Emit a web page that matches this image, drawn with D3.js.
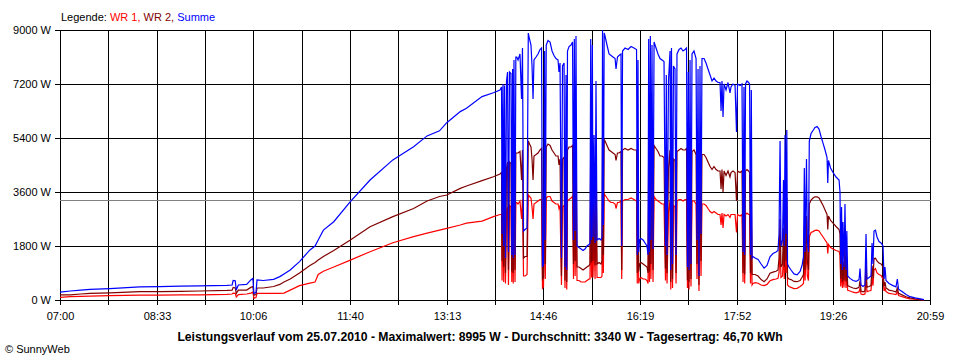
<!DOCTYPE html>
<html><head><meta charset="utf-8">
<script src="https://cdn.jsdelivr.net/npm/d3@7/dist/d3.min.js"></script>
<style>
body{margin:0;background:#fff;}
svg text{font-family:"Liberation Sans",Arial,sans-serif;}
</style></head><body>
<svg id="c" width="960" height="360"></svg>
<script>
// minutes after 07:00
const minutesAfter7 = [
0,10,20,29,48,77,96,116,135,161,166,167,169,170,172,180,184,186,187,189,190,196,206,212,216,222,231,241,246,249,254,264,280,299,321,341,354,366,373,386,392,407,418,424.3,
425.8,426.3,427.2,427.9,428.7,429.6,430.6,431.6,432.5,433.5,434.9,435.7,436.5,437.1,437.8,438.8,439.6,440.5,441.7,443.6,445.1,446.0,447.0,448.5,450.4,451.6,452.8,454.2,455.2,456.2,457.1,459.1,461.0,462.9,464.4,465.3,466.3,467.3,468.0,468.9,470.6,472.6,474.5,476.4,478.3,480.3,481.2,482.2,483.6,484.6,486.1,487.0,488.0,488.7,489.4,490.9,492.8,494.3,495.2,496.0,496.8,497.6,498.6,500.5,502.5,504.4,506.3,508.2,510.2,511.1,511.8,512.6,513.4,514.0,515.0,516.0,516.9,517.9,519.8,521.7,522.7,523.2,524.0,524.8,525.6,527.5,529.5,531.4,533.3,535.3,536.2,537.6,539.1,541.0,541.7,542.5,544.9,547.8,550.7,553.5,556.0,556.7,557.4,558.1,558.9,560.3,562.3,564.2,566.1,567.1,567.7,568.5,569.3,569.9,570.9,571.9,572.9,574.8,576.7,578.6,580.6,582.5,583.9,584.7,585.4,586.8,588.3,589.0,589.7,590.7,591.6,593.1,594.1,595.0,597.0,598.9,600.8,602.8,604.2,605.1,605.9,606.6,607.6,608.5,609.5,611.4,613.4,614.3,615.3,616.2,617.2,618.2,619.1,621.1,623.0,624.9,626.9,628.8,630.7,632.7,634.6,636.5,637.5,638.4,639.4,640.4,642.3,644.2,646.1,647.1,649.0,651.0,652.4,653.4,655.8,657.7,658.7,659.6,660.3,661.1,662.5,664.0,665.0,665.9,666.7,667.4,668.3,
670.3,673.2,676.1,679.0,681.8,684.7,687.6,690.5,692.4,693.4,694.4,695.3,696.8,697.7,698.5,699.2,700.1,700.9,701.6,703.0,705.0,707.8,710.8,713.7,715.6,717.0,717.8,718.5,719.9,720.7,721.8,722.6,724.3,726.2,728.1,730.1,732.0,733.9,735.9,737.8,739.7,740.4,741.1,743.1,745.5,748.4,751.3,752.2,752.9,753.7,754.5,755.1,756.1,757.0,758.0,758.8,759.6,761.9,764.8,767.7,770.6,771.5,772.5,774.4,776.3,777.3,778.2,780.2,782.1,783.1,784.0,785.0,786.4,787.9,789.8,791.8,793.7,794.7,795.6,796.6,799.5,803.3,806.2,807.5,808.7,812.0,815.9,819.7,824.6,829.4,833.2
];
// WR 1 (W)
const wr1 = [
90,110,120,130,145,160,165,170,170,190,200,230,220,100,180,200,230,260,60,80,220,220,220,220,230,330,480,560,600,850,960,1100,1330,1610,1910,2110,2230,2330,2390,2500,2560,2630,2780,2850,
2850,650,2900,600,2950,550,3000,3100,500,3150,3100,600,3100,550,3200,600,3250,3250,3200,3300,2700,3350,800,800,850,3500,3450,3400,3100,2700,3200,3250,3300,3350,3350,400,450,3300,700,3400,3450,3450,3300,3250,3200,3200,3050,3150,500,3100,3150,400,3000,350,3300,3350,3400,3450,700,3450,800,3500,650,650,600,600,600,650,700,700,3450,750,3400,750,2200,700,2900,750,750,750,800,3600,900,3550,3500,3400,3300,3250,3250,3200,3050,3250,3250,3300,700,3300,3350,3350,3400,3350,3300,550,3200,550,700,750,700,700,650,550,3450,600,3500,700,3400,600,3450,3350,3300,3250,3200,3200,650,3000,550,2950,3300,350,3350,400,3150,3100,550,3300,3350,3350,3300,3350,3350,400,3050,350,3200,450,3300,3300,3200,700,3100,300,3100,800,3200,3200,3150,3050,2950,2900,2950,2900,2850,2850,2500,2900,2400,2850,2800,2850,2750,2850,2850,2850,2250,2850,2800,2850,600,2800,550,2850,2900,2850,2850,550,2750,500,550,
580,560,500,480,520,640,680,700,720,900,1700,750,800,1600,700,2200,900,2270,500,450,420,380,390,450,500,550,1700,650,1800,800,650,2100,2250,2280,2320,2330,2300,2200,2100,2000,1900,1550,1850,1750,1700,1650,1620,1500,450,1100,400,900,420,1300,400,900,320,300,260,240,270,400,200,180,200,800,280,300,320,750,480,1000,1050,900,850,820,700,300,400,280,220,200,180,280,150,110,70,40,25,15,5
];
// WR 2 (W)
const wr2 = [
170,170,200,220,240,280,280,290,300,320,330,420,400,220,330,330,420,450,160,180,400,400,450,520,600,700,900,1150,1250,1330,1450,1650,2000,2440,2780,3050,3300,3450,3500,3720,3800,3980,4110,4200,
4250,1300,4400,1100,4500,900,4400,4600,1000,4600,4550,950,4700,900,4800,1000,4900,4900,4900,4950,4000,5000,1400,1450,1450,5300,5200,5100,4700,4000,4800,4850,4900,5000,5050,700,750,5000,1200,5100,5200,5150,5000,4900,4800,4800,4500,4700,800,4700,4750,650,4500,600,5000,5100,5100,5150,1200,5200,1300,5300,1100,1100,1050,1000,1050,1100,1150,1200,5200,1250,5100,1300,3300,1150,4400,1200,1250,1200,1300,5400,1500,5350,5300,5150,5000,4950,4900,4850,4650,4900,4900,4950,1000,5000,5050,5000,5050,5000,5000,900,4800,950,1200,1250,1200,1150,1100,900,5200,950,5300,1200,5100,1000,5150,5050,4950,4800,4800,4750,1050,4500,900,4400,5000,600,5000,700,4700,4650,900,4950,5000,5050,5000,5000,5050,650,4600,600,4800,700,4950,5000,4850,1200,4600,500,4700,1300,4850,4850,4750,4600,4450,4350,4450,4350,4300,4300,3700,4350,3600,4300,4150,4300,4100,4250,4300,4250,3300,4300,4250,4300,900,4250,850,4300,4350,4300,4250,900,4100,850,850,
850,800,680,610,700,890,930,960,1000,1400,2700,1100,1200,2400,1100,3300,1300,3400,750,700,680,620,610,650,760,850,2500,1000,2800,1300,1000,3200,3330,3400,3440,3440,3400,3280,3150,3000,2850,2350,2800,2650,2560,2450,2350,2200,700,1700,600,1300,650,1900,620,1400,480,440,400,380,420,650,300,270,300,1400,430,450,480,1150,720,1380,1390,1300,1230,1200,1100,450,600,400,330,300,270,400,220,170,110,70,40,25,5
];
// Summe (W)
const summe = [
260,300,330,355,380,440,445,465,470,490,500,650,640,330,500,520,670,720,220,250,670,650,690,780,870,1000,1280,1670,1800,2000,2330,2610,3280,4000,4670,5110,5470,5640,5910,6280,6390,6780,6910,7000,
7100,2200,7200,1800,7150,1400,7300,7600,1600,7600,7550,1500,7700,1400,8000,1500,8100,8100,8000,8200,6700,8400,2300,2350,2400,8900,8700,8500,7800,6700,8000,8100,8200,8350,8400,1100,1200,8300,2000,8500,8650,8600,8300,8150,8050,8000,7600,7900,1400,7800,7900,1100,7500,1000,8300,8450,8500,8600,2000,8700,2300,8800,1800,1750,1700,1650,1700,1800,1850,1900,8700,2000,8500,2100,5500,1900,7300,2000,2050,2000,2100,9000,2500,8900,8800,8500,8200,8150,8100,8050,7700,8100,8150,8200,1800,8300,8400,8350,8450,8400,8350,1500,8000,1600,2000,2050,2000,1900,1800,1500,8700,1600,8800,2000,8500,1700,8600,8400,8200,8050,8000,7950,1800,7500,1500,7300,8300,1000,8400,1200,7800,7700,1500,8200,8350,8400,8300,8350,8400,1100,7600,1000,8000,1200,8200,8300,8050,2000,7700,800,7800,2200,8050,8050,7900,7700,7500,7300,7400,7300,7250,7250,6300,7300,6100,7200,7000,7250,6900,7100,7200,7150,5600,7200,7150,7200,1600,7100,1500,7200,7300,7250,7200,1500,7000,1400,1450,
1400,1350,1200,1060,1150,1440,1550,1600,1650,2200,5300,1800,2000,4000,1800,5500,2200,5670,1200,1100,1000,870,840,950,1150,1450,4400,1600,4700,2000,1600,5300,5550,5650,5750,5780,5700,5450,5220,5000,4750,3900,4650,4400,4250,4100,4000,3600,1200,3100,1000,2600,1100,3200,1000,2300,800,720,650,620,680,1050,500,450,500,2200,700,750,800,1900,1200,2300,2330,2100,1950,1900,1800,700,1100,650,550,480,440,700,360,280,180,110,70,40,10
];
const yTicks = [0, 1800, 3600, 5400, 7200, 9000];
const xTickLabels = ["07:00","08:33","10:06","11:40","13:13","14:46","16:19","17:52","19:26","20:59"];
const dayMinutes = 839; // 07:00 .. 20:59
const gridCount = 18;
const average = 3340;
const legendItems = [
  {label: "WR 1, ", color: "#ff0000"},
  {label: "WR 2, ", color: "#800000"},
  {label: "Summe", color: "#0000ff"}
];
const titleText = "Leistungsverlauf vom 25.07.2010 - Maximalwert: 8995 W - Durchschnitt: 3340 W - Tagesertrag: 46,70 kWh";
const creditText = "\u00A9 SunnyWeb";

const svg = d3.select("#c");
const x = d3.scaleLinear().domain([0, dayMinutes]).range([60, 930]);
const xr = x.copy().rangeRound([60, 930]);
const y = d3.scaleLinear().domain([0, 9000]).range([300, 30]);
const yr = y.copy().rangeRound([300, 30]);

const gridMinutes = d3.range(gridCount + 1).map(i => i * dayMinutes / gridCount);

// grid
const grid = svg.append("g").attr("stroke", "#000").attr("stroke-width", 1);
grid.selectAll("line.v").data(gridMinutes).join("line")
  .attr("x1", d => xr(d) + 0.5).attr("x2", d => xr(d) + 0.5)
  .attr("y1", 30).attr("y2", 300.5);
grid.selectAll("line.h").data(yTicks).join("line")
  .attr("x1", 60).attr("x2", 931)
  .attr("y1", d => yr(d) + 0.5).attr("y2", d => yr(d) + 0.5);

// axes
const xAxis = d3.axisBottom(xr).tickValues(gridMinutes).tickSize(5).tickSizeOuter(0).tickPadding(7)
  .tickFormat((d, i) => i % 2 === 0 ? xTickLabels[i / 2] : "");
const gx = svg.append("g").attr("transform", "translate(0,300)").call(xAxis);
gx.select(".domain").remove();
gx.selectAll("text").attr("font-size", 11).attr("font-family", "'Liberation Sans',Arial,sans-serif").attr("fill", "#000");
gx.selectAll("line").attr("stroke", "#000");

const yAxis = d3.axisLeft(yr).tickValues(yTicks).tickSize(5).tickSizeOuter(0).tickPadding(4)
  .tickFormat(d => d + " W");
const gy = svg.append("g").attr("transform", "translate(60,0)").call(yAxis);
gy.select(".domain").remove();
gy.selectAll("text").attr("font-size", 11).attr("font-family", "'Liberation Sans',Arial,sans-serif").attr("fill", "#000");
gy.selectAll("line").attr("stroke", "#000");

// average line
svg.append("line")
  .attr("x1", 60).attr("x2", 931)
  .attr("y1", Math.round(y(average)) + 0.5).attr("y2", Math.round(y(average)) + 0.5)
  .attr("stroke", "#808080").attr("stroke-width", 1);

// series (legend order, Summe on top)
const series = [
  {values: wr1, color: "#ff0000"},
  {values: wr2, color: "#800000"},
  {values: summe, color: "#0000ff"}
];
const line = d3.line().x(d => x(d[0])).y(d => y(d[1]));
series.forEach(s => {
  svg.append("path")
    .datum(minutesAfter7.map((t, i) => [t, s.values[i]]))
    .attr("fill", "none").attr("stroke", s.color).attr("stroke-width", 1.2)
    .attr("stroke-linejoin", "miter").attr("d", line);
});

// legend
const lg = svg.append("text").attr("x", 61).attr("y", 20.5).attr("font-size", 11).attr("xml:space", "preserve");
lg.append("tspan").text("Legende: ").attr("fill", "#000");
legendItems.forEach(it => lg.append("tspan").text(it.label).attr("fill", it.color));

// title
const title = svg.append("text").attr("x", 480).attr("y", 341).attr("text-anchor", "middle")
  .attr("font-size", 12).attr("font-weight", "bold").attr("fill", "#000").text(titleText);
const tl = title.node().getComputedTextLength();
title.attr("font-size", 12 * 606 / tl);

svg.append("text").attr("x", 5).attr("y", 353).attr("font-size", 11).attr("fill", "#000").text(creditText);
</script>
</body></html>
